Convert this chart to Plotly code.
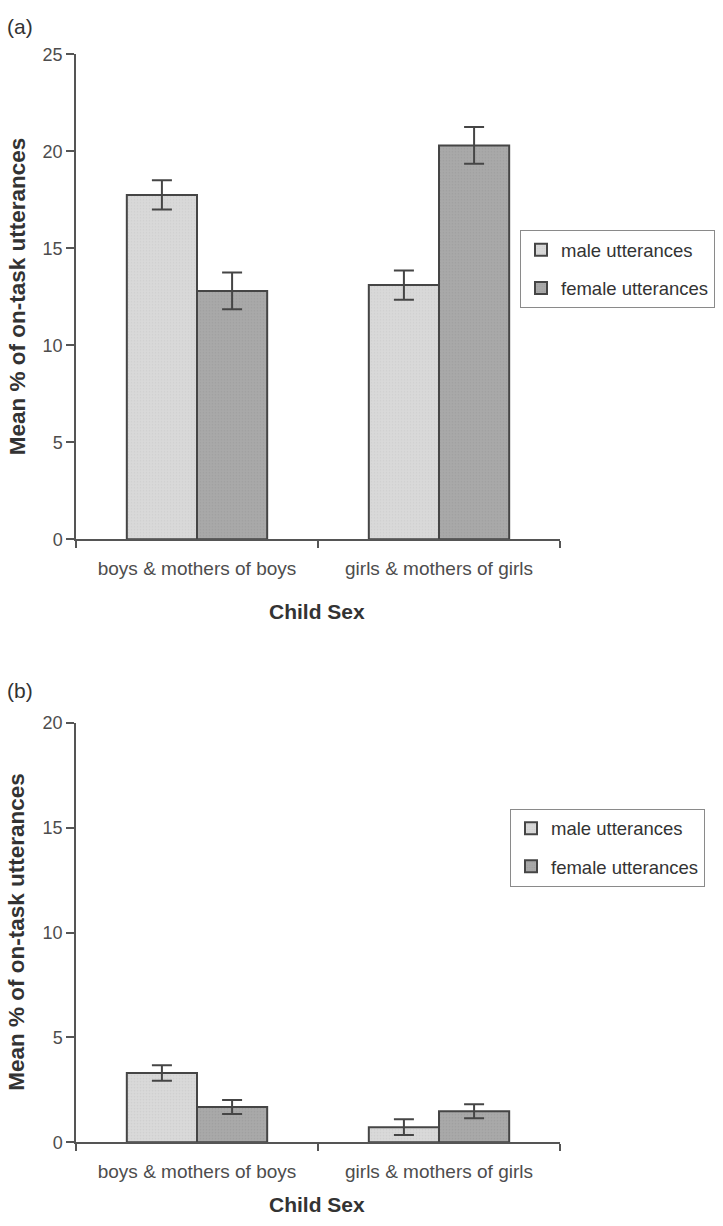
import plotly.graph_objects as go

categories = ["boys & mothers of boys", "girls & mothers of girls"]
series_names = ["male utterances", "female utterances"]

# Panel (a)
a_male = [17.75, 13.1]
a_male_err = [0.75, 0.75]
a_female = [12.8, 20.3]
a_female_err = [0.95, 0.95]

# Panel (b)
b_male = [3.3, 0.72]
b_male_err = [0.37, 0.38]
b_female = [1.68, 1.48]
b_female_err = [0.33, 0.33]

W, H = 723, 1226
FONT = "Liberation Sans, Arial, sans-serif"
TXT = "#333333"
TICKTXT = "#4d4d4d"
EDGE = "#454545"
MALE_FILL = "#d9d9d9"
FEMALE_FILL = "#a9a9a9"

def px_x(p):
    return p / W

def px_y(p):
    return 1 - p / H

fig = go.Figure()

def add_bars(vals, errs, name, fill, dot, xa, ya, legend):
    fig.add_trace(go.Bar(
        x=categories, y=vals, name=name, xaxis=xa, yaxis=ya,
        legend=legend, legendgroup=name + legend, showlegend=True,
        marker=dict(color=fill, line=dict(color=EDGE, width=2),
                    pattern=dict(shape=".", fgcolor=dot, bgcolor=fill, size=3, solidity=0.25)),
        error_y=dict(type="data", array=errs, color=EDGE, thickness=2, width=10),
    ))

add_bars(a_male, a_male_err, series_names[0], MALE_FILL, "#c4c4c4", "x", "y", "legend")
add_bars(a_female, a_female_err, series_names[1], FEMALE_FILL, "#939393", "x", "y", "legend")
add_bars(b_male, b_male_err, series_names[0], MALE_FILL, "#c4c4c4", "x2", "y2", "legend2")
add_bars(b_female, b_female_err, series_names[1], FEMALE_FILL, "#939393", "x2", "y2", "legend2")

xdom = [px_x(76), px_x(560)]
common_x = dict(
    showline=True, linecolor="#555555", linewidth=1.5, ticks="outside", tickson="boundaries",
    ticklen=7, tickcolor="#555555", tickwidth=1.5, range=[-0.5, 1.5], showgrid=False,
    tickfont=dict(family=FONT, size=19, color=TICKTXT), ticklabelstandoff=11,
)
common_y = dict(
    showline=True, linecolor="#555555", linewidth=1.5, ticks="outside", ticklen=8,
    tickcolor="#555555", tickwidth=1.5, showgrid=False, zeroline=False, dtick=5,
    tickfont=dict(family=FONT, size=18, color=TICKTXT), ticklabelstandoff=0,
)

legend_common = dict(
    bgcolor="white", bordercolor="#8a8a8a", borderwidth=1,
    font=dict(family=FONT, size=18.5, color=TXT),
    xanchor="left", yanchor="top", tracegroupgap=11, traceorder="grouped",
    itemwidth=30,
)

fig.update_layout(
    width=W, height=H, margin=dict(l=0, r=0, t=0, b=0),
    paper_bgcolor="white", plot_bgcolor="white",
    barmode="group", bargap=0.42, bargroupgap=0,
    xaxis=dict(domain=xdom, anchor="y", **common_x),
    yaxis=dict(domain=[px_y(538), px_y(45)], anchor="x", range=[0, 25], **common_y),
    xaxis2=dict(domain=xdom, anchor="y2", **common_x),
    yaxis2=dict(domain=[px_y(1151), px_y(725)], anchor="x2", range=[0, 20], **common_y),
    legend=dict(x=px_x(520), y=px_y(224), **legend_common),
    legend2=dict(x=px_x(510), y=px_y(812), **legend_common),
)

ann = []
for txt, y in [("(a)", 17), ("(b)", 692)]:
    ann.append(dict(text=txt, x=px_x(5), y=px_y(y), xref="paper", yref="paper",
                    xanchor="left", yanchor="middle", showarrow=False,
                    font=dict(family=FONT, size=21, color=TXT)))
for y in [291, 937]:
    ann.append(dict(text="<b>Mean % of on-task utterances</b>", x=px_x(17), y=px_y(y),
                    xref="paper", yref="paper", xanchor="center", yanchor="middle",
                    textangle=-90, showarrow=False,
                    font=dict(family=FONT, size=22.5, color=TXT)))
for y in [611, 1214]:
    ann.append(dict(text="<b>Child Sex</b>", x=px_x(317), y=px_y(y),
                    xref="paper", yref="paper", xanchor="center", yanchor="middle",
                    showarrow=False, font=dict(family=FONT, size=21, color=TXT)))
fig.update_layout(annotations=ann)

fig.write_html("out.html")
